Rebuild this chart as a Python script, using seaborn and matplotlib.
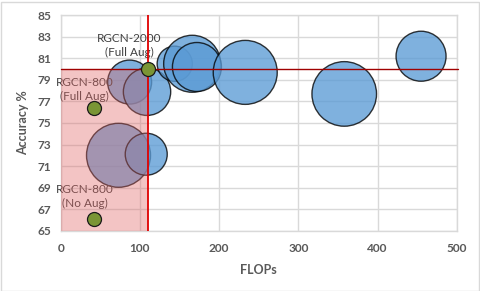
import matplotlib
matplotlib.use("Agg")
import matplotlib.pyplot as plt
import matplotlib.patches as mpatches
import seaborn as sns
import pandas as pd

# ---- data ----
bubble_flops = [87, 109, 144, 166, 172, 233, 358, 455, 73, 108]
bubble_acc = [78.8, 77.9, 80.5, 80.5, 80.2, 79.7, 77.7, 81.2, 72.0, 72.1]
bubble_area = [484, 560, 310, 812, 600, 1024, 1043, 625, 1024, 441]

rgcn_flops = [110, 42, 42]
rgcn_acc = [80.0, 76.4, 66.1]
rgcn_labels = ["RGCN-2000\n(Full Aug)", "RGCN-800\n(Full Aug)", "RGCN-800\n(No Aug)"]
label_x = [87, 30, 30]
label_y = [82.2, 78.1, 68.2]

ref_flops = 110
ref_acc = 80

xticks = [0, 100, 200, 300, 400, 500]
yticks = [65, 67, 69, 71, 73, 75, 77, 79, 81, 83, 85]

sns.set_theme(style="white")
plt.rcParams["font.family"] = ["Lato", "DejaVu Sans"]

fig = plt.figure(figsize=(4.81, 2.91), dpi=100)
ax = fig.add_axes([60.7 / 481, 1 - 230.7 / 291, 396 / 481, 215.4 / 291])

bub = pd.DataFrame({"flops": bubble_flops, "acc": bubble_acc, "area": bubble_area})
px2pt = 72 / 100
smax = max(bubble_area) * (2 * px2pt) ** 2
sns.scatterplot(data=bub, x="flops", y="acc", size="area", sizes=(0, smax),
                size_norm=(0, max(bubble_area)), color="#5B9BD5", alpha=0.78,
                edgecolor="#000000", linewidth=1.0, legend=False, ax=ax, zorder=3)

for lx, ly, t in zip(label_x, label_y, rgcn_labels):
    ax.text(lx, ly, t, ha="center", va="center", fontsize=8.5, color="#404040",
            linespacing=1.3, zorder=4)

ax.add_patch(mpatches.Rectangle((0, 65), ref_flops, ref_acc - 65, facecolor="#E06666",
                                alpha=0.38, edgecolor="none", zorder=5))

ax.axhline(ref_acc, color="#A00000", lw=1.0, zorder=6, xmax=1.003, clip_on=False)
ax.axvline(ref_flops, color="#E00000", lw=1.3, zorder=6)

rg = pd.DataFrame({"flops": rgcn_flops, "acc": rgcn_acc})
sns.scatterplot(data=rg, x="flops", y="acc", s=(2 * 7 * px2pt) ** 2, color="#7A9535",
                edgecolor="#1a1a1a", linewidth=0.9, legend=False, ax=ax, zorder=7)

ax.set_xlim(0, 500)
ax.set_ylim(65, 85)
ax.set_xticks(xticks)
ax.set_yticks(yticks)
ax.grid(True, color="#D9D9D9", lw=1.0, zorder=0)
ax.set_axisbelow(True)
for sp in ax.spines.values():
    sp.set_color("#D9D9D9")
    sp.set_linewidth(1.0)
ax.tick_params(axis="y", length=0, labelsize=8.6, labelcolor="#595959", pad=7)
ax.tick_params(axis="x", length=0, labelsize=8.6, labelcolor="#595959", pad=9)
for lab in ax.get_xticklabels() + ax.get_yticklabels():
    lab.set_fontweight("bold")
ax.set_xlabel("FLOPs", fontsize=9, fontweight="bold", color="#595959", labelpad=7)
ax.set_ylabel("Accuracy %", fontsize=9, fontweight="bold", color="#595959", labelpad=6)

fig.patches.append(mpatches.Rectangle((0.5 / 481, 0.5 / 291), 479 / 481, 289 / 291,
                                      transform=fig.transFigure, fill=False,
                                      edgecolor="#D9D9D9", lw=1.0))

fig.savefig("out.png", dpi=100)
